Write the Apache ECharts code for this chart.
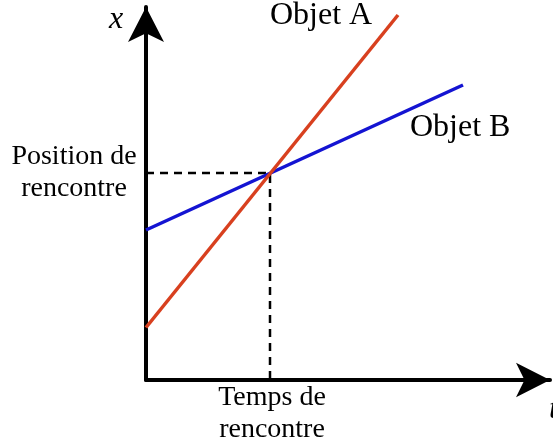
<!DOCTYPE html>
<html>
<head>
<meta charset="utf-8">
<script src="https://cdn.jsdelivr.net/npm/echarts@6/dist/echarts.min.js"></script>
<style>
  html,body{margin:0;padding:0;background:#fff;}
  #main{width:553px;height:442px;}
</style>
</head>
<body>
<div id="main"></div>
<script>
// droites x(t) des deux objets (unites arbitraires)
var objetA = [[0, 2.1], [10.08, 14.6]];
var objetB = [[0, 6.0], [12.68, 11.8]];
var rencontre = [4.96, 8.28];
var tMax = 16.16, xMax = 14.92;

var chart = echarts.init(document.getElementById('main'));
var serif = '"Liberation Serif", "DejaVu Serif", serif';

var option = {
  animation: false,
  grid: { left: 146, right: 3, top: 7, bottom: 62 },
  xAxis: {
    type: 'value', min: 0, max: tMax,
    axisLine: { show: true, symbol: ['none', 'arrow'], symbolSize: [26, 34],
      lineStyle: { color: '#000', width: 4 } },
    axisTick: { show: false }, axisLabel: { show: false }, splitLine: { show: false }
  },
  yAxis: {
    type: 'value', min: 0, max: xMax,
    axisLine: { show: true, symbol: ['none', 'arrow'], symbolSize: [27, 35],
      lineStyle: { color: '#000', width: 4 } },
    axisTick: { show: false }, axisLabel: { show: false }, splitLine: { show: false }
  },
  series: [
    {
      name: 'pointilles', type: 'line', symbol: 'none', clip: false, z: 1,
      lineStyle: { color: '#000', width: 2.5, type: [8, 6] },
      data: [[0, rencontre[1]], rencontre, [rencontre[0], 0]]
    },
    {
      name: 'Objet A', type: 'line', symbol: 'none', clip: false, z: 3,
      lineStyle: { color: '#d8401f', width: 3.5 },
      data: objetA
    },
    {
      name: 'Objet B', type: 'line', symbol: 'none', clip: false, z: 2,
      lineStyle: { color: '#1414d2', width: 3.5 },
      data: objetB
    }
  ],
  graphic: [
    { type: 'text', left: 109, top: 4, style: { text: 'x', font: 'italic 32px ' + serif, fill: '#000' } },
    { type: 'text', left: 549, top: 394, style: { text: 't', font: 'italic 32px ' + serif, fill: '#000' } },
    { type: 'text', left: 270, top: 0, style: { text: 'Objet A', font: '32px ' + serif, fill: '#000' } },
    { type: 'text', left: 410, top: 112, style: { text: 'Objet B', font: '32px ' + serif, fill: '#000' } },
    { type: 'text', x: 74, y: 141, style: { text: 'Position de\nrencontre', font: '28px ' + serif,
      fill: '#000', textAlign: 'center', lineHeight: 32 } },
    { type: 'text', x: 272, y: 382, style: { text: 'Temps de\nrencontre', font: '28px ' + serif,
      fill: '#000', textAlign: 'center', lineHeight: 32 } }
  ]
};
chart.setOption(option);
</script>
</body>
</html>
